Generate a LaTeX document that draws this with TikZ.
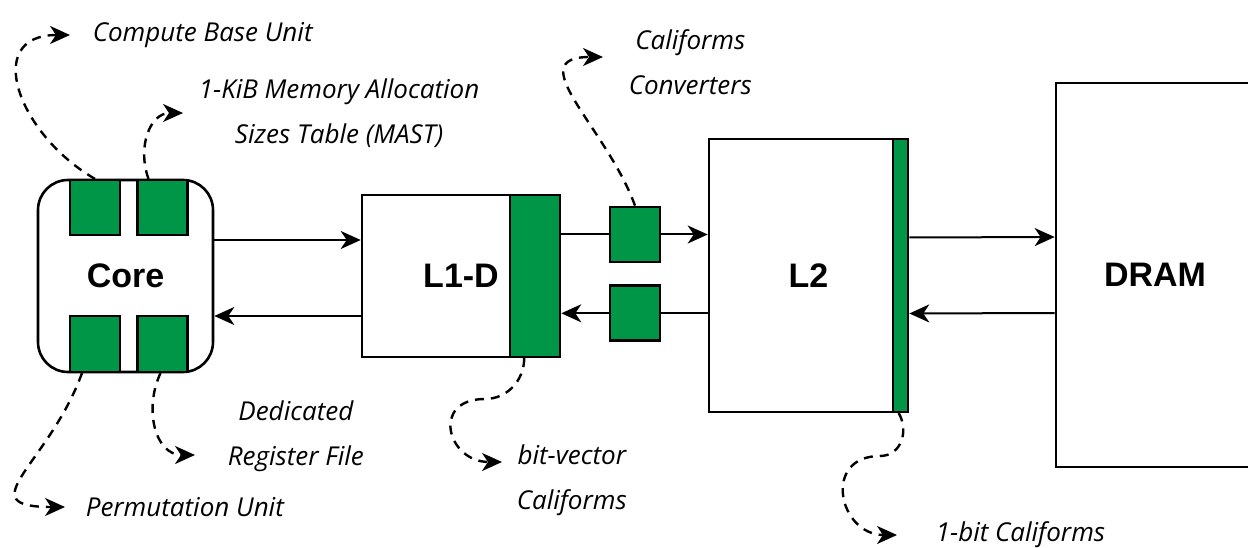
\documentclass[tikz,border=0pt]{standalone}
\usepackage{fontspec}
\setmainfont{Liberation Sans}
\newfontfamily\lblfont{Open Sans}
\usetikzlibrary{positioning}
\usetikzlibrary{arrows.meta}
\definecolor{calgreen}{RGB}{0,150,72}

\begin{document}
\begin{tikzpicture}[x=0.5pt, y=0.5pt, thick,
    blk/.style = {draw, line width=1.3pt, font=\bfseries\fontsize{17}{20}\selectfont},
    cal/.style = {draw, line width=1.1pt, fill=calgreen, minimum width=25pt, minimum height=27.5pt},
    lbl/.style = {font=\lblfont\itshape\fontsize{13}{22.5}\selectfont, align=center, inner sep=0pt},
    link/.style = {line width=1pt, -{Stealth[length=10pt, width=9pt, inset=3pt]}},
    note/.style = {line width=1.2pt, dash pattern=on 4.5pt off 3.5pt, -{Stealth[length=10pt, width=9pt, inset=3pt]}}]
    \useasboundingbox (0,0) rectangle (1248,547);
    % blocks
    \node[blk, rounded corners=15pt, minimum width=87.5pt, minimum height=96pt] (core) at (125.5,271) {Core};
    \node[cal] (g1) at (95,339.5) {};
    \node[cal] (g2) at (162.5,339.5) {};
    \node[cal, minimum height=28pt] (g3) at (95,203) {};
    \node[cal, minimum height=28pt] (g4) at (162.5,203) {};
    \node[blk, minimum width=99pt, minimum height=81pt] (l1) at (461,271) {L1-D};
    \node[cal, minimum height=81pt, anchor=east] (s1) at (l1.east) {};
    \node[cal, line width=1.4pt] (ct) at (635,312.5) {};
    \node[cal, line width=1.4pt] (cb) [below=10.5pt of ct] {};
    \node[blk, minimum width=99.5pt, minimum height=136.5pt] (l2) at (808.5,271.5) {L2};
    \node[cal, minimum width=7.5pt, minimum height=136.5pt, anchor=east] (s2) at (l2.east) {};
    \node[blk, minimum width=99pt, minimum height=192pt] (dram) at (1155,272) {DRAM};
    % data paths
    \draw[link] ([yshift=18pt]core.east) -- ([yshift=18pt]l1.west);
    \draw[link] ([yshift=-20pt]l1.west) -- ([yshift=-20pt]core.east);
    \draw[line width=1pt] (ct.west -| s1.east) -- (ct.west);
    \draw[link] (ct.east) -- (ct.east -| l2.west);
    \draw[line width=1pt] (cb.east -| l2.west) -- (cb.east);
    \draw[link] (cb.west) -- (cb.west -| s1.east);
    \draw[link] ([yshift=19pt]s2.east) -- ([yshift=19pt]dram.west);
    \draw[link] ([yshift=-19pt]dram.west) -- ([yshift=-19pt]s2.east);
    % callouts
    \coordinate (t1) at (70,512);
    \coordinate (t2) at (183,434);
    \coordinate (t3) at (65,40);
    \coordinate (t4) at (195,92);
    \coordinate (t5) at (502,85);
    \coordinate (v5) at (485,148);
    \coordinate (t6) at (603,490);
    \coordinate (t7) at (897,12);
    \coordinate (v7) at (880,91);
    \node[lbl, right=11pt of t1] (cbu) {Compute Base Unit};
    \node[lbl, right=7.5pt of t2] (mast) {1-KiB Memory Allocation\\Sizes Table (MAST)};
    \node[lbl, right=10pt of t3] (perm) {Permutation Unit};
    \node[lbl, right=16pt of t4, yshift=9.5pt] (reg) {Dedicated\\Register File};
    \node[lbl, right=7pt of t5, yshift=-9pt] (bitv) {bit-vector\\Califorms};
    \node[lbl, right=12.5pt of t6, yshift=-2.75pt] (conv) {Califorms\\Converters};
    \node[lbl, right=19pt of t7] (onebit) {1-bit Califorms};
    \draw[note] (g1.north) to[out=150, in=180, looseness=1.55] (t1);
    \draw[note] ([xshift=-7pt]g2.north) to[out=110, in=180, looseness=1.15] (t2);
    \draw[note] ([xshift=-6.5pt]g3.south) to[out=-110, in=180, looseness=1.85] (t3);
    \draw[note] ([xshift=-1pt]g4.south) to[out=-115, in=180, looseness=1.15] (t4);
    \draw[note] ([xshift=-5.5pt]s1.south) to[out=-90, in=0] (v5) to[out=180, in=180, looseness=2.15] (t5);
    \draw[note] (ct.north) to[out=110, in=180, looseness=1.4] (t6);
    \draw[note] ([xshift=-1pt]s2.south) to[out=-60, in=0, looseness=1.15] (v7) to[out=180, in=180, looseness=1.85] (t7);
\end{tikzpicture}
\end{document}
